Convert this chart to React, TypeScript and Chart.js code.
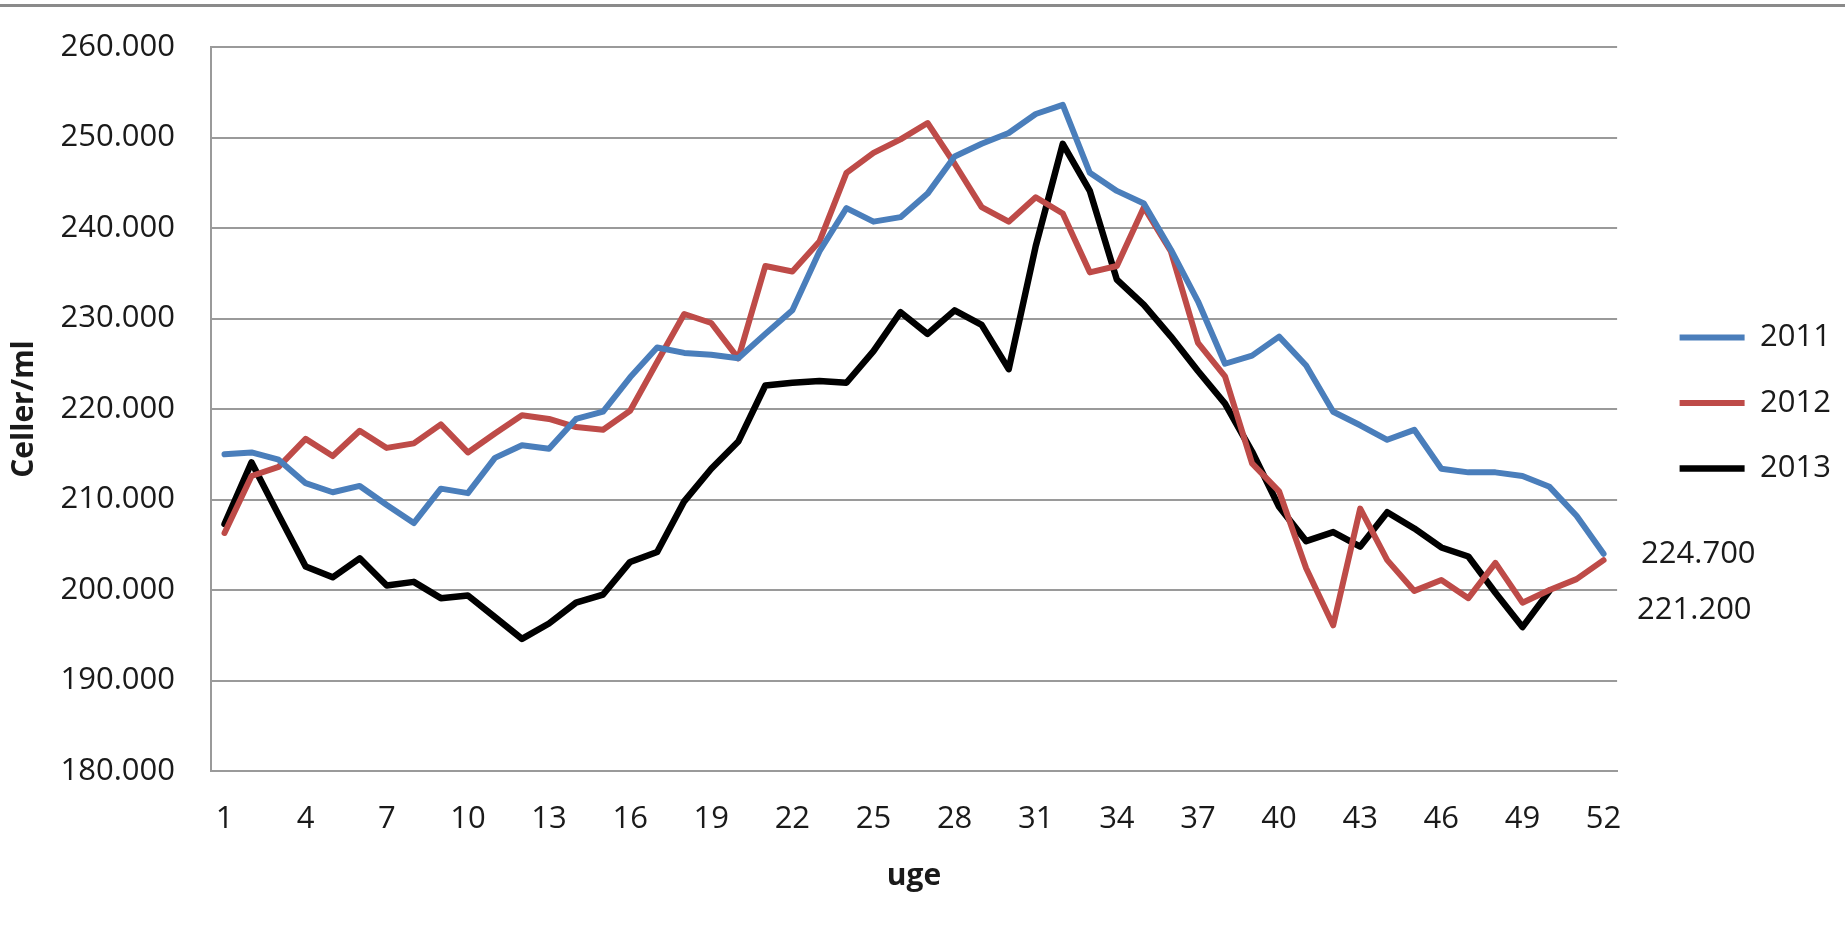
import { useEffect, useRef } from 'react';
import { Chart, registerables } from 'chart.js';

Chart.register(...registerables);

// ---------- data ----------
const WEEKS = [
  '1', '2', '3', '4', '5', '6', '7', '8', '9', '10', '11', '12', '13',
  '14', '15', '16', '17', '18', '19', '20', '21', '22', '23', '24', '25', '26',
  '27', '28', '29', '30', '31', '32', '33', '34', '35', '36', '37', '38', '39',
  '40', '41', '42', '43', '44', '45', '46', '47', '48', '49', '50', '51', '52',
];

// celler/ml in thousands
const Y2011 = [
  215.0, 215.2, 214.4, 211.8, 210.8, 211.5, 209.4, 207.4, 211.2, 210.7, 214.6, 216.0, 215.6,
  218.9, 219.7, 223.5, 226.8, 226.2, 226.0, 225.6, 228.3, 230.9, 237.4, 242.2, 240.7, 241.2,
  243.8, 247.9, 249.3, 250.5, 252.6, 253.6, 246.1, 244.1, 242.7, 237.6, 231.9, 225.0, 225.9,
  228.0, 224.8, 219.7, 218.2, 216.6, 217.7, 213.4, 213.0, 213.0, 212.6, 211.4, 208.2, 204.0,
];

const Y2012 = [
  206.3, 212.6, 213.6, 216.7, 214.8, 217.6, 215.7, 216.2, 218.3, 215.2, 217.3, 219.3, 218.9,
  218.0, 217.7, 219.8, 225.2, 230.5, 229.5, 225.6, 235.8, 235.2, 238.5, 246.1, 248.3, 249.8,
  251.6, 247.1, 242.3, 240.7, 243.4, 241.6, 235.1, 235.8, 242.3, 237.4, 227.3, 223.6, 214.0,
  210.9, 202.4, 196.1, 209.0, 203.3, 199.9, 201.1, 199.1, 203.0, 198.6, 200.0, 201.2, 203.3,
];

const Y2013 = [
  207.3, 214.1, 208.3, 202.6, 201.4, 203.5, 200.5, 200.9, 199.1, 199.4, 197.0, 194.6, 196.3,
  198.6, 199.5, 203.1, 204.2, 209.8, 213.4, 216.4, 222.6, 222.9, 223.1, 222.9, 226.4, 230.7,
  228.3, 230.9, 229.3, 224.4, 238.0, 249.3, 244.1, 234.3, 231.5, 228.0, 224.2, 220.6, 215.3,
  209.2, 205.4, 206.4, 204.8, 208.6, 206.8, 204.7, 203.7, 199.7, 195.9, 199.9, null, null,
];

const SERIES_NAMES = ['2011', '2012', '2013'];
const ANNOTATION_TEXTS = ['224.700', '221.200'];

const Y_MIN = 180;
const Y_MAX = 260;
const Y_STEP = 10;

const X_TITLE = 'uge';
const Y_TITLE = 'Celler/ml';

// ---------- styles ----------
const FONT_FAMILY = '"Open Sans", sans-serif';
const TEXT_COLOR = '#1a1a1a';
const GRID_COLOR = '#9a9a9a';
const COLORS = ['#4a7ebb', '#be4b48', '#000000'];
const LINE_WIDTHS = [6, 6, 6.5];
// annotation anchors (y in axis units, x offset from plot's right edge)
const ANNOT_Y = [204.0, 197.8];
const ANNOT_DX = [24, 20];
const LEGEND_SHIFT = -6;

const annotationPlugin = {
  id: 'sideAnnotations',
  afterLayout(chart: any) {
    if (chart.legend) {
      chart.legend.top += LEGEND_SHIFT;
      chart.legend.bottom += LEGEND_SHIFT;
    }
  },
  afterDraw(chart: any) {
    const { ctx, chartArea, scales } = chart;
    ctx.save();
    ctx.font = `31px ${FONT_FAMILY}`;
    ctx.fillStyle = TEXT_COLOR;
    ctx.textAlign = 'left';
    ctx.textBaseline = 'middle';
    ANNOTATION_TEXTS.forEach((t, i) => {
      const y = scales.y.getPixelForValue(ANNOT_Y[i]);
      ctx.fillText(t, chartArea.right + ANNOT_DX[i], y);
    });
    ctx.restore();
  },
};

export default function App() {
  const canvasRef = useRef<HTMLCanvasElement | null>(null);

  useEffect(() => {
    if (!canvasRef.current) return;
    const series = [Y2011, Y2012, Y2013];
    const chart = new Chart(canvasRef.current, {
      type: 'line',
      data: {
        labels: WEEKS,
        datasets: series.map((d, i) => ({
          label: SERIES_NAMES[i],
          data: d,
          borderColor: COLORS[i],
          backgroundColor: COLORS[i],
          borderWidth: LINE_WIDTHS[i],
          pointRadius: 0,
          pointHoverRadius: 0,
          tension: 0,
          borderJoinStyle: 'round',
          borderCapStyle: 'round',
          spanGaps: false,
        })),
      },
      options: {
        animation: false,
        responsive: true,
        maintainAspectRatio: false,
        layout: { padding: { top: 47, right: 4, bottom: 0, left: 0 } },
        plugins: {
          tooltip: { enabled: false },
          legend: {
            position: 'right',
            fullSize: false,
            labels: {
              usePointStyle: true,
              pointStyle: 'line',
              pointStyleWidth: 65,
              padding: 34.5,
              color: TEXT_COLOR,
              font: { family: FONT_FAMILY, size: 31 },
            },
          },
        },
        scales: {
          x: {
            type: 'category',
            offset: true,
            grid: { display: false, drawTicks: false },
            border: { display: true, color: GRID_COLOR, width: 2 },
            ticks: {
              autoSkip: false,
              maxRotation: 0,
              padding: 30,
              color: TEXT_COLOR,
              font: { family: FONT_FAMILY, size: 31 },
              callback: (_v: any, index: number) => (index % 3 === 0 ? WEEKS[index] : ''),
            },
            title: {
              display: true,
              text: X_TITLE,
              color: TEXT_COLOR,
              font: { family: FONT_FAMILY, size: 30, weight: 'bold' },
              padding: { top: 0, bottom: 42 },
            },
            afterFit: (s: any) => { s.height = 165; },
          },
          y: {
            type: 'linear',
            min: Y_MIN,
            max: Y_MAX,
            grid: { color: GRID_COLOR, lineWidth: 2, drawTicks: false },
            border: { display: true, color: GRID_COLOR, width: 2 },
            ticks: {
              stepSize: Y_STEP,
              padding: 36,
              color: TEXT_COLOR,
              font: { family: FONT_FAMILY, size: 31 },
              callback: (v: any) => Number(v).toFixed(3),
            },
            title: {
              display: true,
              text: Y_TITLE,
              color: TEXT_COLOR,
              font: { family: FONT_FAMILY, size: 30, weight: 'bold' },
              padding: { top: 6, bottom: 0 },
            },
            afterFit: (s: any) => {
              s.width = 211;
              s.paddingTop = 0;
              s.paddingBottom = 0;
            },
          },
          spacer: {
            type: 'linear',
            position: 'right',
            display: true,
            grid: { display: false, drawTicks: false },
            border: { display: false },
            ticks: { display: false },
            afterFit: (s: any) => {
              s.width = 28;
              s.paddingTop = 0;
              s.paddingBottom = 0;
            },
          },
        },
      } as any,
      plugins: [annotationPlugin],
    });
    return () => chart.destroy();
  }, []);

  return (
    <div style={{ position: 'absolute', left: 0, top: 0, width: 1845, height: 936, background: '#fff', overflow: 'hidden' }}>
      <div style={{ position: 'absolute', left: 0, top: 4, width: 1845, height: 3, background: '#8a8a8a' }} />
      <canvas ref={canvasRef} />
    </div>
  );
}
